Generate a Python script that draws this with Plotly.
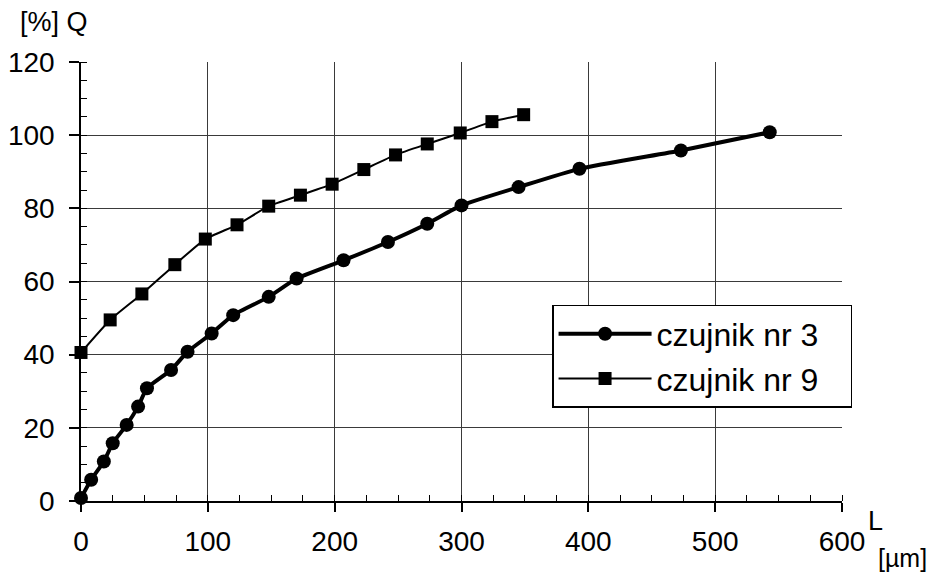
import plotly.graph_objects as go

# czujnik nr 3 (circles)
L3 = [0, 8, 18, 25, 36, 45, 52, 71, 84, 103, 120, 148, 170, 207, 242, 273, 300, 345, 393, 473, 543]
Q3 = [0.8, 5.8, 10.8, 15.8, 20.8, 25.8, 30.8, 35.8, 40.8, 45.8, 50.8, 55.8, 60.8, 65.8, 70.8, 75.8, 80.8, 85.8, 90.8, 95.8, 100.8]

# czujnik nr 9 (squares)
L9 = [0, 23, 48, 74, 98, 123, 148, 173, 198, 223, 248, 273, 299, 324, 349]
Q9 = [40.6, 49.5, 56.6, 64.6, 71.6, 75.5, 80.6, 83.6, 86.6, 90.6, 94.6, 97.6, 100.6, 103.7, 105.6]

x_ticks = [0, 100, 200, 300, 400, 500, 600]
y_ticks = [0, 20, 40, 60, 80, 100, 120]

FONT = "Arial, Liberation Sans, sans-serif"
PAD = "\u00a0\u00a0\u00a0"

fig = go.Figure()
fig.add_trace(go.Scatter(
    x=L3, y=Q3, name="czujnik nr 3" + PAD, mode="lines+markers",
    line=dict(color="black", width=4, shape="spline", smoothing=0.5),
    marker=dict(symbol="circle", size=14, color="black"),
    cliponaxis=False,
))
fig.add_trace(go.Scatter(
    x=L9, y=Q9, name="czujnik nr 9" + PAD, mode="lines+markers",
    line=dict(color="black", width=2, shape="spline", smoothing=0.5),
    marker=dict(symbol="square", size=13, color="black"),
    cliponaxis=False,
))

axis_common = dict(
    showline=True, linecolor="black", linewidth=1.5,
    showgrid=True, gridcolor="#3a3a3a", gridwidth=1,
    zeroline=False, ticks="outside", tickwidth=1.5, tickcolor="black",
    tickfont=dict(family=FONT, size=28, color="black"),
    automargin=False,
)

fig.update_xaxes(
    range=[0, 600], tickvals=x_ticks, ticklen=9, ticklabelstandoff=6,
    minor=dict(dtick=25, ticks="inside", ticklen=6, tickwidth=1, tickcolor="black", showgrid=False),
    **axis_common,
)
fig.update_yaxes(
    range=[0, 120], tickvals=y_ticks, ticklen=10, ticklabelstandoff=9,
    minor=dict(dtick=5, ticks="inside", ticklen=6, tickwidth=1, tickcolor="black", showgrid=False),
    **axis_common,
)

fig.update_layout(
    width=934, height=573,
    margin=dict(l=81, r=92, t=62, b=72),
    paper_bgcolor="white", plot_bgcolor="white",
    font=dict(family=FONT, color="black"),
    showlegend=True,
    legend=dict(
        x=0.619, y=0.4465, xanchor="left", yanchor="top",
        bgcolor="white", bordercolor="black", borderwidth=1.5,
        font=dict(family=FONT, size=32, color="black"),
        itemwidth=93, tracegroupgap=0,
    ),
    annotations=[
        dict(text="[%] Q", xref="paper", yref="paper", x=-0.083, y=1.0, yshift=40,
             xanchor="left", yanchor="middle", showarrow=False,
             font=dict(family=FONT, size=27, color="black")),
        dict(text="L", xref="paper", yref="paper", x=1.0, y=0.0, xshift=24, yshift=-20,
             xanchor="left", yanchor="middle", showarrow=False,
             font=dict(family=FONT, size=27, color="black")),
        dict(text="[µm]", xref="paper", yref="paper", x=1.0, y=0.0, xshift=34, yshift=-57,
             xanchor="left", yanchor="middle", showarrow=False,
             font=dict(family=FONT, size=25, color="black")),
    ],
)

fig.write_html("out.html", config={"displayModeBar": False},
               post_script="document.body.style.margin='0';")
